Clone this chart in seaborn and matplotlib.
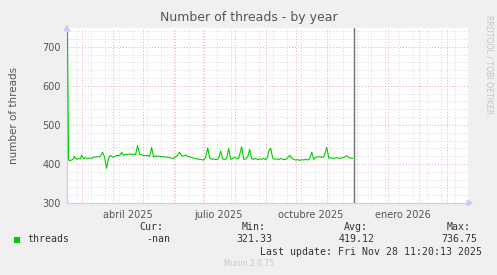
import matplotlib
matplotlib.use("Agg")
import matplotlib.pyplot as plt
import matplotlib.dates as mdates
from matplotlib.ticker import FixedLocator, NullFormatter
import seaborn as sns
import pandas as pd
import numpy as np
from datetime import datetime, timedelta

# ---- data ----
dates = [
    "2025-02-15", "2025-02-16", "2025-02-17", "2025-02-19", "2025-02-21", "2025-02-22", "2025-02-24",
    "2025-02-26", "2025-02-28", "2025-03-01", "2025-03-03", "2025-03-05", "2025-03-07", "2025-03-09",
    "2025-03-11", "2025-03-13", "2025-03-15", "2025-03-17", "2025-03-19", "2025-03-21", "2025-03-22",
    "2025-03-24", "2025-03-26", "2025-03-28", "2025-03-30", "2025-04-01", "2025-04-03", "2025-04-05",
    "2025-04-07", "2025-04-09", "2025-04-10", "2025-04-12", "2025-04-14", "2025-04-16", "2025-04-18",
    "2025-04-20", "2025-04-22", "2025-04-24", "2025-04-26", "2025-04-28", "2025-04-30", "2025-05-02",
    "2025-05-04", "2025-05-06", "2025-05-08", "2025-05-10", "2025-05-12", "2025-05-14", "2025-05-16",
    "2025-05-18", "2025-05-20", "2025-05-22", "2025-05-24", "2025-05-26", "2025-05-28", "2025-05-30",
    "2025-06-01", "2025-06-03", "2025-06-05", "2025-06-07", "2025-06-09", "2025-06-11", "2025-06-13",
    "2025-06-15", "2025-06-17", "2025-06-20", "2025-06-22", "2025-06-24", "2025-06-27", "2025-06-29",
    "2025-07-01", "2025-07-03", "2025-07-05", "2025-07-07", "2025-07-09", "2025-07-11", "2025-07-13",
    "2025-07-15", "2025-07-16", "2025-07-18", "2025-07-20", "2025-07-22", "2025-07-24", "2025-07-26",
    "2025-07-28", "2025-07-30", "2025-08-01", "2025-08-03", "2025-08-05", "2025-08-08", "2025-08-10",
    "2025-08-12", "2025-08-14", "2025-08-16", "2025-08-18", "2025-08-20", "2025-08-22", "2025-08-24",
    "2025-08-26", "2025-08-28", "2025-08-30", "2025-09-01", "2025-09-03", "2025-09-04", "2025-09-06",
    "2025-09-08", "2025-09-10", "2025-09-12", "2025-09-14", "2025-09-16", "2025-09-18", "2025-09-20",
    "2025-09-22", "2025-09-25", "2025-09-27", "2025-09-29", "2025-10-01", "2025-10-03", "2025-10-05",
    "2025-10-07", "2025-10-09", "2025-10-11", "2025-10-13", "2025-10-15", "2025-10-17", "2025-10-19",
    "2025-10-21", "2025-10-23", "2025-10-25", "2025-10-27", "2025-10-29", "2025-11-01", "2025-11-03",
    "2025-11-05", "2025-11-07", "2025-11-09", "2025-11-11", "2025-11-13", "2025-11-15", "2025-11-17",
    "2025-11-19", "2025-11-21", "2025-11-23", "2025-11-25", "2025-11-27",
]
threads = [
    736.75, 412, 408, 410, 413, 419, 412,
    414, 413, 423, 414, 416, 413, 415,
    414, 418, 417, 419, 418, 424, 430,
    418, 389, 415, 422, 417, 419, 422,
    421, 424, 430, 422, 425, 424, 426,
    424, 425, 424, 447, 425, 423, 422,
    421, 422, 419, 442, 418, 421, 419,
    420, 418, 419, 417, 418, 416, 415,
    414, 418, 422, 430, 421, 420, 423,
    420, 418, 416, 414, 413, 412, 411,
    410, 416, 441, 415, 412, 413, 411,
    412, 415, 433, 413, 411, 414, 440,
    412, 414, 416, 415, 414, 444, 412,
    413, 418, 437, 413, 412, 414, 411,
    413, 412, 414, 411, 418, 433, 440,
    415, 412, 413, 411, 414, 412, 411,
    413, 422, 415, 412, 410, 411, 409,
    411, 410, 412, 410, 414, 430, 412,
    417, 418, 419, 417, 418, 442, 415,
    416, 414, 415, 416, 414, 415, 416,
    418, 421, 416, 415, 414,
]
month_labels = ["abril 2025", "julio 2025", "octubre 2025", "enero 2026"]
month_label_dates = ["2025-04-16", "2025-07-16", "2025-10-16", "2026-01-16"]
y_ticks = [300, 400, 500, 600, 700]
legend_name = "threads"
stat_heads = ["Cur:", "Min:", "Avg:", "Max:"]
stat_vals = ["-nan", "321.33", "419.12", "736.75"]
last_update = "Last update: Fri Nov 28 11:20:13 2025"
now_time = "2025-11-28 11:20:13"

df = pd.DataFrame({"date": pd.to_datetime(dates), "threads": threads})

sns.set_style("white")
plt.rcParams["font.family"] = ["DejaVu Sans"]

BG = "#F0F0F0"
fig = plt.figure(figsize=(4.97, 2.75), dpi=100, facecolor=BG)
ax = fig.add_axes([67 / 497, 72 / 275, 401 / 497, 175 / 275])
ax.set_facecolor("white")

sns.lineplot(data=df, x="date", y="threads", ax=ax, color="#00CC00", linewidth=0.8, zorder=5)

# limits
x0 = datetime(2025, 4, 1) - timedelta(days=45.5)
x1 = datetime(2025, 12, 1) + timedelta(days=111.1)
ax.set_xlim(x0, x1)
ax.set_ylim(300, 748)

# grid
major_dates = pd.date_range("2025-03-01", "2026-03-01", freq="MS")
minor_dates = pd.date_range("2025-02-24", "2026-03-20", freq="14D")
ax.xaxis.set_major_locator(FixedLocator(mdates.date2num(major_dates)))
ax.xaxis.set_minor_locator(FixedLocator(mdates.date2num(minor_dates)))
ax.xaxis.set_major_formatter(NullFormatter())
ax.xaxis.set_minor_formatter(NullFormatter())
ax.set_yticks(y_ticks)
ax.set_yticks(np.arange(300, 750, 20), minor=True)

dot = (0, (1, 2))
ax.grid(which="minor", color="#D8D8D8", linestyle=dot, linewidth=0.7, zorder=0)
ax.grid(which="major", color="#F0A8A8", linestyle=dot, linewidth=0.7, zorder=1)
ax.set_axisbelow(True)

ax.tick_params(axis="x", which="major", direction="out", length=2.5, color="#F08080", width=0.8)
ax.tick_params(axis="x", which="minor", direction="out", length=2, color="#C8C8C8", width=0.6)
ax.tick_params(axis="y", which="major", direction="out", length=2.5, color="#C8C8C8", width=0.6,
               labelsize=7, labelcolor="#555555", pad=2)
ax.tick_params(axis="y", which="minor", direction="out", length=2, color="#D0D0D0", width=0.6)

for s in ["top", "right"]:
    ax.spines[s].set_visible(False)
for s in ["left", "bottom"]:
    ax.spines[s].set_color("#C8CCF8")
    ax.spines[s].set_linewidth(0.9)

# month labels (secondary axis so label ticks are independent)
sec = ax.secondary_xaxis("bottom")
sec.set_xticks(mdates.date2num(pd.to_datetime(month_label_dates)))
sec.set_xticklabels(month_labels)
sec.tick_params(length=0, labelsize=7, labelcolor="#555555", pad=5)
sec.spines["bottom"].set_visible(False)

# "now" rule
ax.axvline(pd.to_datetime(now_time), color="#707070", linewidth=1.0, zorder=6)

ax.set_xlabel("")
ax.set_ylabel("number of threads", fontsize=7.5, color="#555555", labelpad=17)

# axis arrows
ax.annotate("", xy=(0, 1.035), xytext=(0, 0.99), xycoords="axes fraction",
            arrowprops=dict(arrowstyle="-|>,head_length=0.35,head_width=0.2", color="#C8CCF8", lw=0.9),
            annotation_clip=False)
ax.annotate("", xy=(1.02, 0), xytext=(0.99, 0), xycoords="axes fraction",
            arrowprops=dict(arrowstyle="-|>,head_length=0.35,head_width=0.2", color="#C8CCF8", lw=0.9),
            annotation_clip=False)

# title
fig.text(248.5 / 497, 1 - 18 / 275, "Number of threads - by year", ha="center", va="center",
         fontsize=9, color="#555555")
fig.text(489 / 497, 1 - 15 / 275, "RRDTOOL / TOBI OETIKER", rotation=270, ha="center", va="top",
         fontsize=5.6, color="#C4C4C4")

# legend
mono = "DejaVu Sans Mono"
fs = 7.1
tc = "#333333"
head_x = [163.5, 266, 368, 470.5]
val_x = [170.5, 272.5, 374.5, 477]
for hx, h in zip(head_x, stat_heads):
    fig.text(hx / 497, 1 - 227 / 275, h, ha="right", va="center", family=mono, fontsize=fs, color=tc)
for vx, v in zip(val_x, stat_vals):
    fig.text(vx / 497, 1 - 239.5 / 275, v, ha="right", va="center", family=mono, fontsize=fs, color=tc)
fig.patches.append(plt.Rectangle((14 / 497, 1 - 243 / 275), 6 / 497, 6 / 275,
                                 transform=fig.transFigure, facecolor="#00CC00", edgecolor="none"))
fig.text(27 / 497, 1 - 239.5 / 275, legend_name, ha="left", va="center", family=mono, fontsize=fs, color=tc)
fig.text(482.5 / 497, 1 - 251.7 / 275, last_update, ha="right", va="center", family=mono, fontsize=fs, color=tc)
fig.text(248.5 / 497, 1 - 264 / 275, "Munin 2.0.75", ha="center", va="center", fontsize=5.5, color="#C8C8C8")

fig.savefig("out.png", dpi=100, facecolor=BG)
